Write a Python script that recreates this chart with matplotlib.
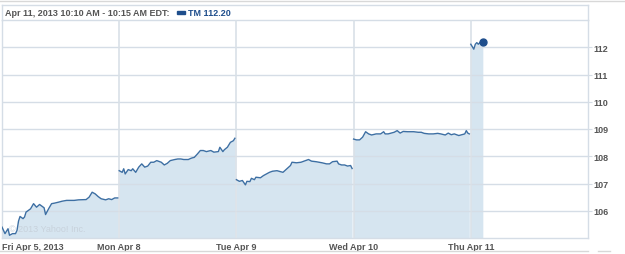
import matplotlib
matplotlib.use("Agg")
import matplotlib.pyplot as plt
from matplotlib.lines import Line2D
import numpy as np

# minutes after the 9:30 open, and TM price, one pair of lists per session
fri_min = [0, 10, 20, 25, 35, 45, 50, 55, 60, 70, 75, 80, 95, 105, 115, 125, 140, 145, 155,
           165, 175, 190, 200, 215, 240, 255, 280, 290, 300, 310, 320, 330, 345, 355, 365, 375, 385]
fri_val = [105.40, 105.16, 105.34, 105.10, 105.16, 105.16, 105.28, 105.62, 105.79, 105.71, 105.77,
           105.95, 106.07, 106.26, 106.13, 106.23, 106.11, 105.86, 106.07, 106.26, 106.28, 106.32,
           106.35, 106.38, 106.38, 106.40, 106.41, 106.50, 106.68, 106.62, 106.52, 106.44, 106.40,
           106.44, 106.41, 106.47, 106.47]

mon_min = [0, 10, 15, 20, 30, 40, 45, 55, 65, 75, 85, 95, 105, 115, 125, 140, 150, 160, 170, 185,
           195, 205, 215, 230, 240, 250, 260, 270, 280, 290, 305, 315, 330, 335, 345, 350, 360, 370, 380, 385]
mon_val = [107.47, 107.41, 107.54, 107.35, 107.51, 107.47, 107.54, 107.41, 107.60, 107.72, 107.60,
           107.64, 107.78, 107.78, 107.84, 107.78, 107.68, 107.74, 107.84, 107.88, 107.90, 107.90,
           107.88, 107.88, 107.93, 107.96, 108.08, 108.21, 108.21, 108.17, 108.21, 108.15, 108.17,
           108.33, 108.17, 108.24, 108.33, 108.51, 108.57, 108.66]

tue_min = [0, 10, 20, 30, 35, 45, 50, 60, 65, 80, 90, 100, 110, 120, 135, 145, 155, 165, 180, 185,
           200, 215, 230, 240, 250, 265, 285, 300, 310, 320, 335, 340, 350, 360, 370, 380, 385]
tue_val = [107.14, 107.08, 107.11, 106.95, 107.08, 107.07, 107.19, 107.14, 107.23, 107.21, 107.29,
           107.35, 107.41, 107.45, 107.47, 107.44, 107.41, 107.51, 107.66, 107.78, 107.76, 107.78,
           107.84, 107.88, 107.82, 107.80, 107.76, 107.72, 107.72, 107.80, 107.82, 107.72, 107.68,
           107.68, 107.64, 107.66, 107.55]

wed_min = [0, 10, 20, 30, 40, 50, 60, 75, 90, 100, 105, 115, 125, 135, 145, 155, 165, 180, 200, 215,
           225, 235, 250, 265, 280, 290, 305, 315, 325, 335, 350, 360, 370, 375, 380, 385]
wed_val = [108.63, 108.60, 108.60, 108.70, 108.90, 108.82, 108.78, 108.82, 108.82, 108.90, 108.82,
           108.82, 108.85, 108.88, 108.94, 108.85, 108.91, 108.90, 108.90, 108.88, 108.88, 108.84,
           108.82, 108.82, 108.84, 108.82, 108.78, 108.85, 108.79, 108.82, 108.76, 108.79, 108.82,
           108.94, 108.85, 108.82]

thu_min = [0, 10, 15, 20, 25, 30, 40]
thu_val = [112.11, 111.93, 112.11, 112.17, 112.11, 112.17, 112.20]

day_labels = ["Fri Apr 5, 2013", "Mon Apr 8", "Tue Apr 9", "Wed Apr 10", "Thu Apr 11"]
y_ticks = [106, 107, 108, 109, 110, 111, 112]

sessions = [(fri_min, fri_val), (mon_min, mon_val), (tue_min, tue_val),
            (wed_min, wed_val), (thu_min, thu_val)]

LINE = "#3d6fa3"
FILL = "#d6e5f0"
GRID = "#d5dde6"
TXT = "#555555"
FONT = ["Liberation Sans", "DejaVu Sans"]
FS = 6.5

fig = plt.figure(figsize=(6.25, 2.55), dpi=100)
W, H = 625.0, 255.0
ax = fig.add_axes([2 / W, (H - 239) / H, 586 / W, 218 / H])

for i, (mins, vals) in enumerate(sessions):
    x = i + np.array(mins) / 390.0
    ax.fill_between(x, 105, vals, color=FILL, lw=0, zorder=1)
    ax.plot(x, vals, color=LINE, lw=1.0, zorder=4)

last_x = 4 + thu_min[-1] / 390.0
ax.plot([last_x], [thu_val[-1]], "o", color="#1f4e8c", ms=5, zorder=5)

for y in y_ticks:
    ax.axhline(y, color=GRID, lw=1.0, zorder=2)
for d in range(1, 5):
    ax.axvline(d, color="#d9e0e7", lw=1.2, zorder=3)

ax.set_xlim(0, 5)
ax.set_ylim(105, 113)
for s in ax.spines.values():
    s.set_color(GRID)
    s.set_linewidth(1.0)

ax.yaxis.tick_right()
ax.set_yticks(y_ticks)
ax.set_yticklabels([str(v) for v in y_ticks], fontsize=FS, fontweight="bold",
                   color=TXT, family=FONT)
ax.tick_params(axis="y", length=3, color=GRID, pad=1)

ax.set_xticks(range(5))
ax.set_xticklabels(day_labels, fontsize=FS, fontweight="bold", color=TXT, family=FONT)
ax.tick_params(axis="x", length=0, pad=3)
ax.get_xticklabels()[0].set_horizontalalignment("left")

ax.text(0.012, 0.03, "\u00a9 2013 Yahoo! Inc.", transform=ax.transAxes, fontsize=FS,
        color="#c8d2dc", family=FONT, zorder=6)

# frame pieces around the chart
fig.add_artist(Line2D([0, 1], [1 - 2 / H, 1 - 2 / H], color="#d8d8d8", lw=1.0))
fig.add_artist(Line2D([0, 588 / W], [1 - 252 / H, 1 - 252 / H], color="#d8d8d8", lw=1.0))
fig.add_artist(Line2D([598 / W, 610 / W], [1 - 252 / H, 1 - 252 / H], color="#d8d8d8", lw=1.0))
fig.add_artist(Line2D([2 / W, 588 / W], [1 - 6 / H, 1 - 6 / H], color=GRID, lw=1.0))
fig.add_artist(Line2D([2 / W, 2 / W], [1 - 6 / H, 1 - 21 / H], color=GRID, lw=1.0))
fig.add_artist(Line2D([588 / W, 588 / W], [1 - 6 / H, 1 - 21 / H], color=GRID, lw=1.0))

title = fig.text(5 / W, 1 - 13.5 / H, "Apr 11, 2013 10:10 AM - 10:15 AM EDT:", fontsize=FS,
                 fontweight="bold", color=TXT, family=FONT, va="center")
fig.canvas.draw()
tx = title.get_window_extent().x1 + 7
fig.patches.append(plt.Rectangle((tx / W, 1 - 15 / H), 8 / W, 3 / H, color="#1f4e8c",
                                 transform=fig.transFigure, figure=fig))
fig.text((tx + 11) / W, 1 - 13.5 / H, "TM 112.20", fontsize=FS, fontweight="bold",
         color="#1f4e8c", family=FONT, va="center")

fig.savefig("out.png", dpi=100)
